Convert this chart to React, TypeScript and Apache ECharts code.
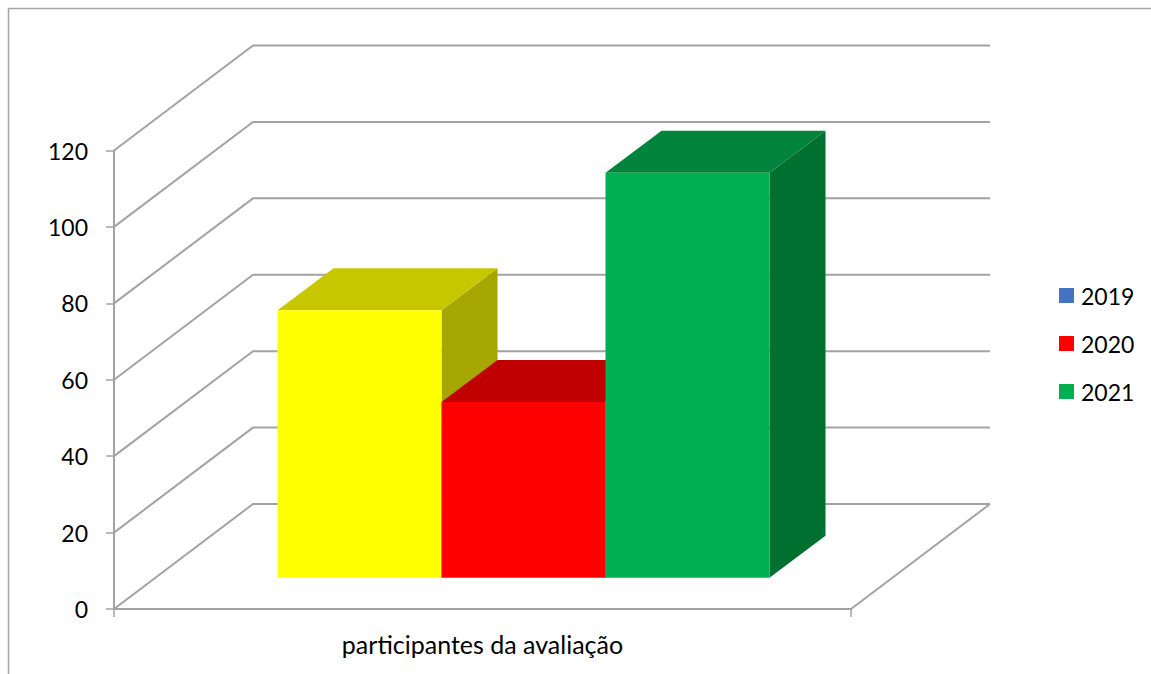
import React, { useEffect, useRef } from "react";
import * as echarts from "echarts";

const categories = ["participantes da avaliação"];
const seriesNames = ["2019", "2020", "2021"];
const values2019 = [70];
const values2020 = [46];
const values2021 = [106];
const tickValues = [0, 20, 40, 60, 80, 100, 120];

const legendColors = ["#4472C4", "#FF0000", "#00B050"];
const frontColors = ["#FFFF00", "#FF0000", "#00B050"];
const topColors = ["#C7C700", "#C00000", "#00843C"];
const sideColors = ["#A6A600", "#A00000", "#007030"];

const LINE = "#A3A3A3";
const WALL_DX = 139;
const WALL_DY = 105;
const BAR_SHIFT_X = 41;
const BAR_SHIFT_Y = 31.3;
const BAR_W = 164;
const BAR_DX = 56;
const BAR_DY = 42;

const FONT = "Lato";

function renderWall(params: any, api: any) {
  const v = api.value(1);
  const cs = params.coordSys;
  const y = api.coord([0, v])[1];
  const left = cs.x;
  const right = cs.x + cs.width;
  const children: any[] = [
    {
      type: "polyline",
      shape: {
        points: [
          [left, y],
          [left + WALL_DX, y - WALL_DY],
          [right + WALL_DX, y - WALL_DY],
        ],
      },
      style: { stroke: LINE, lineWidth: 2, fill: "none" },
    },
  ];
  if (v === 0) {
    children.push({
      type: "line",
      shape: { x1: right, y1: y, x2: right + WALL_DX, y2: y - WALL_DY },
      style: { stroke: LINE, lineWidth: 2 },
    });
  }
  return { type: "group", children };
}

function makeBarRenderer(index: number) {
  return (params: any, api: any) => {
    const center = api.coord([api.value(0), 0])[0];
    const base = api.coord([0, 0])[1] - BAR_SHIFT_Y;
    const top = api.coord([0, api.value(1)])[1] - BAR_SHIFT_Y;
    const x0 = center + BAR_SHIFT_X - (BAR_W * seriesNames.length) / 2 + index * BAR_W;
    const x1 = x0 + BAR_W;
    return {
      type: "group",
      children: [
        {
          type: "polygon",
          shape: {
            points: [
              [x1, top],
              [x1 + BAR_DX, top - BAR_DY],
              [x1 + BAR_DX, base - BAR_DY],
              [x1, base],
            ],
          },
          style: { fill: sideColors[index] },
        },
        {
          type: "polygon",
          shape: {
            points: [
              [x0, top],
              [x0 + BAR_DX, top - BAR_DY],
              [x1 + BAR_DX, top - BAR_DY],
              [x1, top],
            ],
          },
          style: { fill: topColors[index] },
        },
        {
          type: "rect",
          shape: { x: x0, y: top, width: BAR_W, height: base - top },
          style: { fill: frontColors[index] },
        },
      ],
    };
  };
}

export default function App() {
  const ref = useRef<HTMLDivElement>(null);
  useEffect(() => {
    const chart = echarts.init(ref.current!, undefined, { renderer: "svg" });
    const allValues = [values2019, values2020, values2021];
    chart.setOption({
      animation: false,
      backgroundColor: "#FFFFFF",
      textStyle: { fontFamily: FONT },
      grid: { left: 114, right: 300, top: 150.5, bottom: 65 },
      legend: {
        data: seriesNames,
        orient: "vertical",
        left: 1054,
        top: 279,
        icon: "rect",
        itemWidth: 15,
        itemHeight: 15,
        itemGap: 25,
        textStyle: { fontFamily: FONT, fontSize: 23, color: "#000000", padding: [0, 0, 0, 2] },
      },
      xAxis: {
        type: "category",
        data: categories,
        axisLine: { lineStyle: { color: LINE, width: 2 } },
        axisTick: { show: true, length: 8, lineStyle: { color: LINE, width: 1.5 } },
        axisLabel: { fontFamily: FONT, fontSize: 25, color: "#000000", margin: 22 },
      },
      yAxis: {
        type: "value",
        min: 0,
        max: 120,
        interval: 20,
        splitLine: { show: false },
        axisLine: { show: true, lineStyle: { color: LINE, width: 2 } },
        axisTick: { show: true, length: 8, lineStyle: { color: LINE, width: 1.5 } },
        axisLabel: { fontFamily: FONT, fontSize: 23, color: "#000000", margin: 26 },
      },
      graphic: [
        {
          type: "polyline",
          silent: true,
          shape: { points: [[8.5, 680], [8.5, 8.5], [1160, 8.5]] },
          style: { stroke: "#A6A6A6", lineWidth: 1.5, fill: "none" },
        },
      ],
      series: [
        {
          type: "custom",
          name: "walls",
          silent: true,
          renderItem: renderWall,
          encode: { x: 0, y: 1 },
          data: tickValues.map((v) => [0, v]),
          z: 1,
        },
        ...seriesNames.map((name, i) => ({
          type: "custom",
          name,
          silent: true,
          renderItem: makeBarRenderer(i),
          encode: { x: 0, y: 1 },
          itemStyle: { color: legendColors[i] },
          data: allValues[i].map((v, c) => [c, v]),
          z: 3 + i,
        })),
      ],
    });
    return () => chart.dispose();
  }, []);
  return (
    <div
      ref={ref}
      style={{ position: "fixed", left: 0, top: 0, width: 1151, height: 674 }}
    />
  );
}
